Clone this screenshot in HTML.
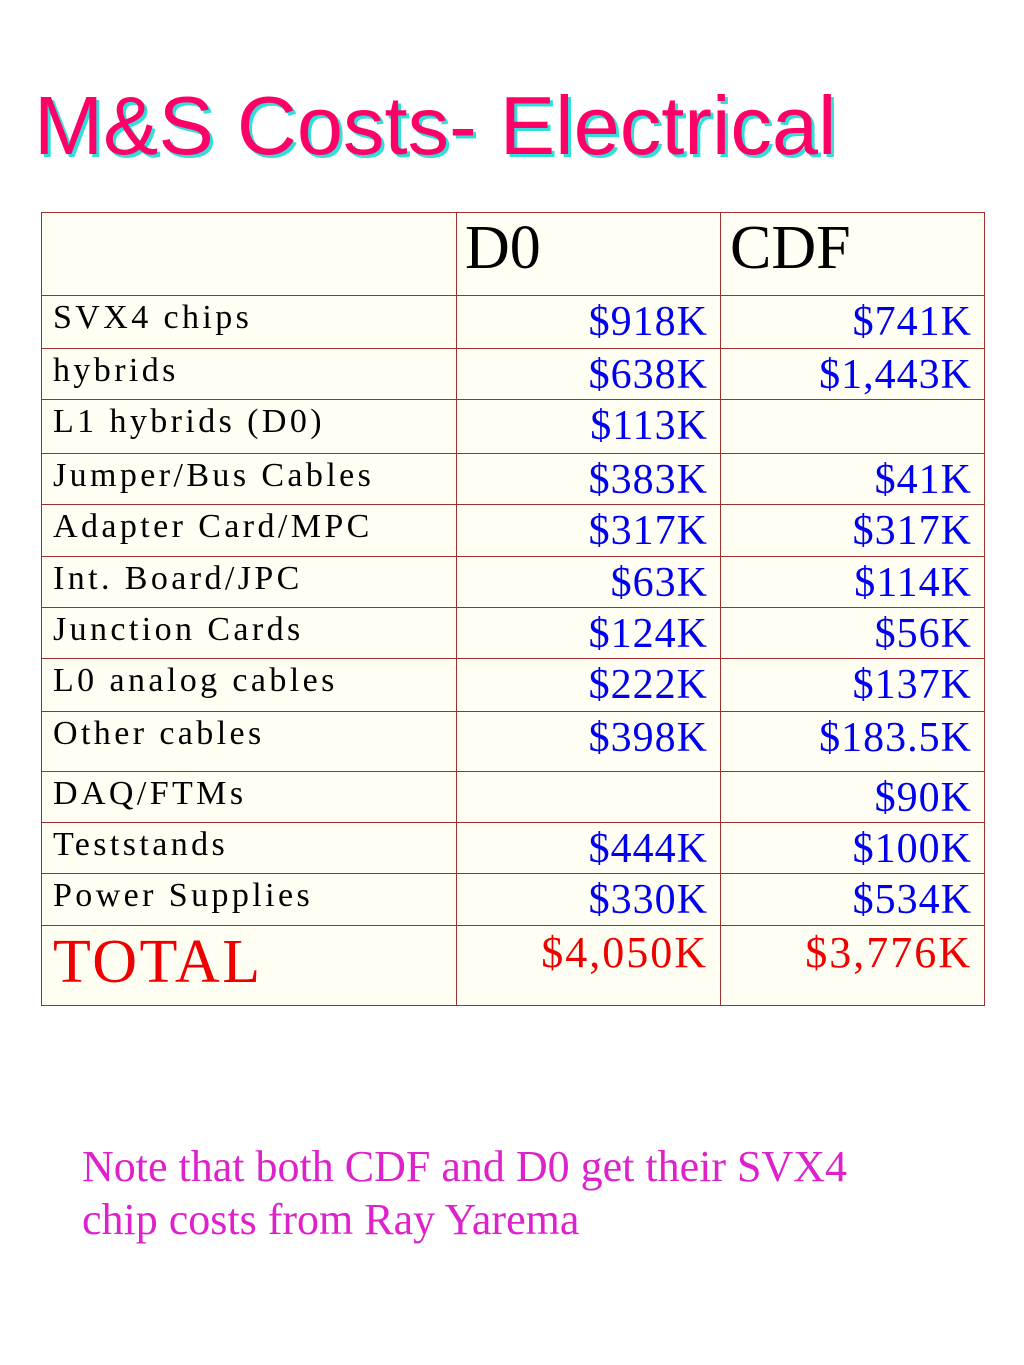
<!DOCTYPE html>
<html><head><meta charset="utf-8">
<style>
body{margin:0;width:1024px;height:1365px;background:#fff;position:relative;overflow:hidden;font-family:"Liberation Serif",serif}
.title{position:absolute;left:34px;top:84px;font-family:"Liberation Sans",sans-serif;font-size:83px;color:#ff0066;text-shadow:3px 3px 0 #33dddd;white-space:nowrap;line-height:1}
.tbl{position:absolute;left:41px;top:212px;width:944px;height:794px;background:#fffef2;border:1.5px solid #a03030;box-sizing:border-box}
.hl{position:absolute;left:0;right:0;height:0;border-top:1.5px solid #a03030}
.vl{position:absolute;top:0;bottom:0;width:0;border-left:1.5px solid #a03030}
.lab{position:absolute;left:11px;font-size:34px;letter-spacing:3.4px;color:#000;white-space:nowrap;line-height:1}
.val{position:absolute;font-size:42px;color:#0000ee;white-space:nowrap;line-height:1;text-align:right;letter-spacing:1px}
.note{position:absolute;left:82px;top:1140px;font-size:44px;color:#dd22cc;line-height:53px;white-space:nowrap}
</style></head><body>
<div class="title">M&amp;S Costs- Electrical</div>
<div class="tbl" id="tbl">
<div class="vl" style="left:414px"></div><div class="vl" style="left:678px"></div>
<div style="position:absolute;left:423px;top:4px;font-size:62px;line-height:1">D0</div>
<div style="position:absolute;left:688px;top:4px;font-size:62px;line-height:1">CDF</div>
</div>
<div class="note">Note that both CDF and D0 get their SVX4<br>chip costs from Ray Yarema</div>
<script>
const labels=["SVX4 chips","hybrids","L1 hybrids (D0)","Jumper/Bus Cables","Adapter Card/MPC","Int. Board/JPC","Junction Cards","L0 analog cables","Other cables","DAQ/FTMs","Teststands","Power Supplies","TOTAL"];
const d0=["$918K","$638K","$113K","$383K","$317K","$63K","$124K","$222K","$398K","","$444K","$330K","$4,050K"];
const cdf=["$741K","$1,443K","","$41K","$317K","$114K","$56K","$137K","$183.5K","$90K","$100K","$534K","$3,776K"];
const rowTops=[295,348,399,453,504,556,607,658,711,771,822,873,925];
const tbl=document.getElementById('tbl');
labels.forEach((l,i)=>{
  const y=rowTops[i]-212;
  const hl=document.createElement('div');hl.className='hl';hl.style.top=(y-1)+'px';
  
  
  tbl.appendChild(hl);
  const total=i===labels.length-1;
  const lb=document.createElement('div');lb.className='lab';lb.textContent=l;
  
  
  if(total){lb.style.fontSize='62px';lb.style.color='#ee0000';lb.style.letterSpacing='2.5px';lb.style.top=(y+5)+'px';}
  else lb.style.top=(y+5)+'px';
  tbl.appendChild(lb);
  [[d0,414],[cdf,678]].forEach(([arr,x])=>{
    const v=document.createElement('div');v.className='val';v.textContent=arr[i];
    
    
    v.style.right=(944-x-264+10)+'px';
    v.style.top=(y+5)+'px';
    if(total){v.style.color='#ee0000';v.style.letterSpacing='2px';v.style.fontSize='44px';}
    tbl.appendChild(v);
  });
});
</script>
</body></html>
